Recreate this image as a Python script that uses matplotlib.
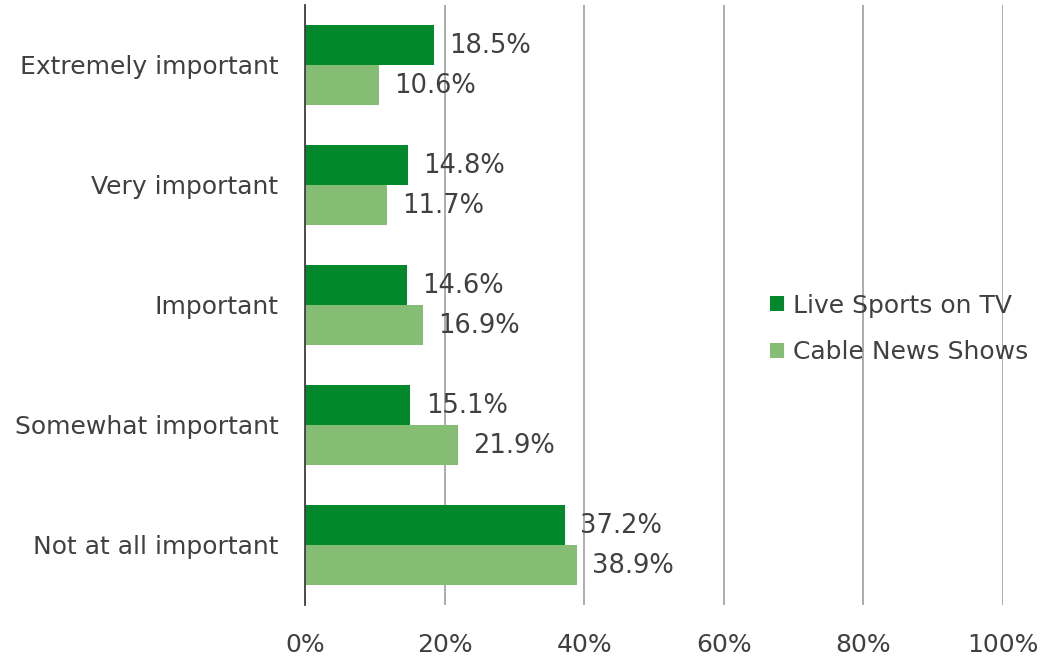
import numpy as np
import matplotlib
matplotlib.use("Agg")
import matplotlib.pyplot as plt

# survey answers, top to bottom
categories = ["Extremely important", "Very important", "Important",
              "Somewhat important", "Not at all important"]
live_sports = [18.5, 14.8, 14.6, 15.1, 37.2]
cable_news = [10.6, 11.7, 16.9, 21.9, 38.9]
series_names = ["Live Sports on TV", "Cable News Shows"]
xticks = [0, 20, 40, 60, 80, 100]

text_color = "#404040"
dark_green = "#00882B"
light_green = "#85BD74"
fs = 18

plt.rcParams["font.family"] = ["DejaVu Sans"]

fig = plt.figure(figsize=(10.46, 6.63), dpi=100)
ax = fig.add_axes([0.2916, 0.0875, 0.6673, 0.905])

y = np.arange(len(categories))
h = 1 / 3.0
b1 = ax.barh(y - h / 2, live_sports, height=h, color=dark_green, label=series_names[0], zorder=3)
b2 = ax.barh(y + h / 2, cable_news, height=h, color=light_green, label=series_names[1], zorder=3)

for bars, vals in ((b1, live_sports), (b2, cable_news)):
    for bar, v in zip(bars, vals):
        ax.annotate("%.1f%%" % v, (v, bar.get_y() + bar.get_height() / 2),
                    xytext=(11, -1), textcoords="offset points",
                    va="center", ha="left", fontsize=fs + 0.5, color=text_color, zorder=4)

ax.set_xlim(0, 100)
ax.set_ylim(len(categories) - 0.5, -0.5)
ax.set_xticks(xticks)
ax.set_xticklabels(["%d%%" % t for t in xticks])
ax.set_yticks(y)
ax.set_yticklabels(categories)
ax.tick_params(axis="x", length=0, pad=20, labelsize=fs, colors=text_color)
ax.tick_params(axis="y", length=0, pad=19, labelsize=fs, colors=text_color)
ax.xaxis.grid(True, color="#A6A6A6", linewidth=1.3, zorder=0)
ax.set_axisbelow(True)
for s in ("top", "right", "bottom"):
    ax.spines[s].set_visible(False)
ax.spines["left"].set_color(text_color)
ax.spines["left"].set_linewidth(1.3)
ax.spines["left"].set_zorder(5)

ax.legend(loc="center left", bbox_to_anchor=(0.634, 0.46), frameon=False,
          fontsize=fs, labelcolor=text_color, handlelength=0.55, handleheight=0.55,
          handletextpad=0.35, labelspacing=0.9)

fig.savefig("out.png", dpi=100)
